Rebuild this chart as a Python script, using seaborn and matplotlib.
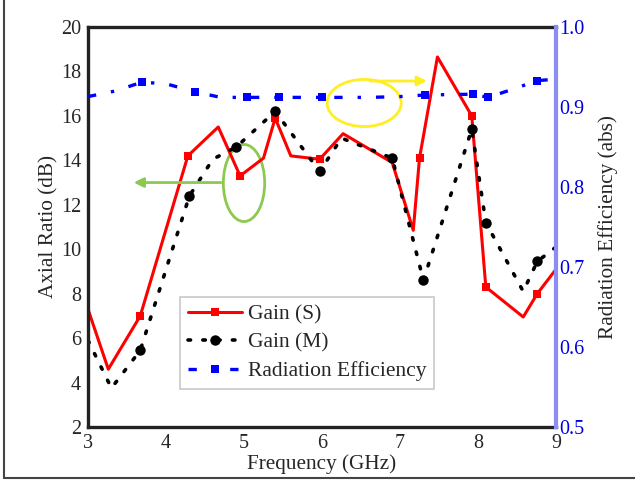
import matplotlib
matplotlib.use("Agg")
import matplotlib.pyplot as plt
import seaborn as sns
from matplotlib.lines import Line2D
from matplotlib.patches import Ellipse

sns.set_style("white")
plt.rcParams['font.family'] = ['Liberation Serif', 'DejaVu Serif']
plt.rcParams['font.size'] = 14.5

# Gain (S) - red solid, left axis
freq_s = [3.0, 3.26, 3.67, 4.28, 4.67, 4.95, 5.25, 5.4, 5.6, 5.97, 6.27, 6.9,
          7.17, 7.25, 7.48, 7.92, 8.1, 8.58, 8.76, 9.0]
gain_s = [7.3, 4.6, 7.0, 14.2, 15.5, 13.3, 14.1, 15.9, 14.2, 14.05, 15.2, 13.9,
          10.85, 14.1, 18.65, 16.0, 8.3, 6.95, 8.0, 9.1]
marks_s = [2, 3, 5, 7, 9, 13, 15, 16, 18]

# Gain (M) - black dotted, left axis
freq_m = [3.0, 3.3, 3.67, 4.3, 4.6, 4.9, 5.4, 5.97, 6.25, 6.9, 7.3, 7.92,
          8.1, 8.58, 8.76, 9.0]
gain_m = [5.9, 3.75, 5.45, 12.4, 14.05, 14.6, 16.2, 13.5, 15.0, 14.1, 8.6, 15.4,
          11.2, 8.1, 9.45, 10.1]
marks_m = [2, 3, 5, 6, 7, 9, 10, 11, 12, 14]

# Radiation efficiency - blue dash-dot, right axis
freq_e = [3.0, 3.35, 3.69, 4.0, 4.37, 4.7, 5.04, 5.45, 6.0, 6.6, 7.0, 7.32,
          7.94, 8.13, 8.5, 8.76, 8.9]
eff = [0.913, 0.92, 0.931, 0.929, 0.919, 0.912, 0.912, 0.912, 0.912, 0.912,
       0.913, 0.915, 0.916, 0.912, 0.924, 0.933, 0.934]
marks_e = [2, 4, 6, 7, 8, 11, 12, 13, 15]

fig = plt.figure(figsize=(6.35, 4.82), dpi=100)
ax = fig.add_axes([0.1386, 0.1141, 0.737, 0.8299])
ax2 = ax.twinx()

sns.lineplot(x=freq_s, y=gain_s, ax=ax, color='#ff0000', linewidth=2.2,
             marker='s', markersize=6, markevery=marks_s, markeredgewidth=0)
sns.lineplot(x=freq_m, y=gain_m, ax=ax, color='black', linewidth=2.6,
             linestyle=(0, (0.7, 3.4)), dash_capstyle='round',
             marker='o', markersize=7.5, markevery=marks_m, markeredgewidth=0)
sns.lineplot(x=freq_e, y=eff, ax=ax2, color='#0000ff', linewidth=2.4,
             linestyle=(0, (2.5, 4.5, 1, 4.5)), marker='s', markersize=5.5,
             markevery=marks_e, markeredgewidth=0)

ax.set_xlim(3, 9)
ax.set_ylim(2, 20)
ax.set_xticks(range(3, 10))
ax.set_yticks(range(2, 21, 2))
ax2.set_ylim(0.5, 1.0)
ax2.set_yticks([0.5, 0.6, 0.7, 0.8, 0.9, 1.0])
ax2.set_yticklabels(['0.5', '0.6', '0.7', '0.8', '0.9', '1.0'])

ax.set_xlabel('Frequency (GHz)', labelpad=1, fontsize=15.3)
ax.set_ylabel('Axial Ratio (dB)', labelpad=2, fontsize=15.3)
ax2.set_ylabel('Radiation Efficiency (abs)', labelpad=10, fontsize=15.3)

ax.tick_params(length=0, pad=5)
ax2.tick_params(length=0, pad=2, labelcolor='#0000dd')

for side in ['left', 'bottom', 'top']:
    ax.spines[side].set_color('#222222')
    ax.spines[side].set_linewidth(2.4)
    ax2.spines[side].set_visible(False)
ax.spines['right'].set_visible(False)
ax2.spines['right'].set_color('#8c8cf5')
ax2.spines['right'].set_linewidth(3)
ax.grid(False)
ax2.grid(False)

# annotation ellipses and arrows
ax.add_patch(Ellipse((5.0, 12.98), 0.53, 3.47, fill=False, edgecolor='#8dc94f',
                     linewidth=2))
ax.annotate('', xy=(3.55, 13.0), xytext=(4.74, 13.0),
            arrowprops=dict(arrowstyle='-|>', color='#8dc94f', lw=2,
                            mutation_scale=14))
ax.add_patch(Ellipse((6.54, 16.58), 0.95, 2.12, fill=False, edgecolor='#ffee22',
                     linewidth=2))
ax.annotate('', xy=(7.38, 17.57), xytext=(6.58, 17.57),
            arrowprops=dict(arrowstyle='-|>', color='#ffee22', lw=2,
                            mutation_scale=14))

handles = [
    Line2D([], [], color='#ff0000', linewidth=2.2, marker='s', markersize=6,
           markeredgewidth=0),
    Line2D([], [], color='black', linewidth=2.6, linestyle=(0, (0.7, 3.4)),
           dash_capstyle='round', marker='o', markersize=7.5, markeredgewidth=0),
    Line2D([], [], color='#0000ff', linewidth=2.4, linestyle=(0, (2.5, 4.5, 1, 4.5)),
           marker='s', markersize=5.5, markeredgewidth=0),
]
labels = ['Gain (S)', 'Gain (M)', 'Radiation Efficiency']
leg = ax2.legend(handles, labels, loc='lower left', bbox_to_anchor=(0.197, 0.095),
                 borderaxespad=0, frameon=True, fancybox=False, handlelength=2.5,
                 labelspacing=0.4, handletextpad=0.3, borderpad=0.35,
                 fontsize=15.5)
leg.get_frame().set_edgecolor('#bbbbbb')
leg.get_frame().set_linewidth(1.2)

# outer frame lines of the figure
fig.add_artist(Line2D([0.006, 0.006], [0.008, 1.0], color='#444444', linewidth=1.5,
                      transform=fig.transFigure))
fig.add_artist(Line2D([0.006, 1.0], [0.008, 0.008], color='#444444', linewidth=1.5,
                      transform=fig.transFigure))

fig.savefig('out.png', dpi=100)
